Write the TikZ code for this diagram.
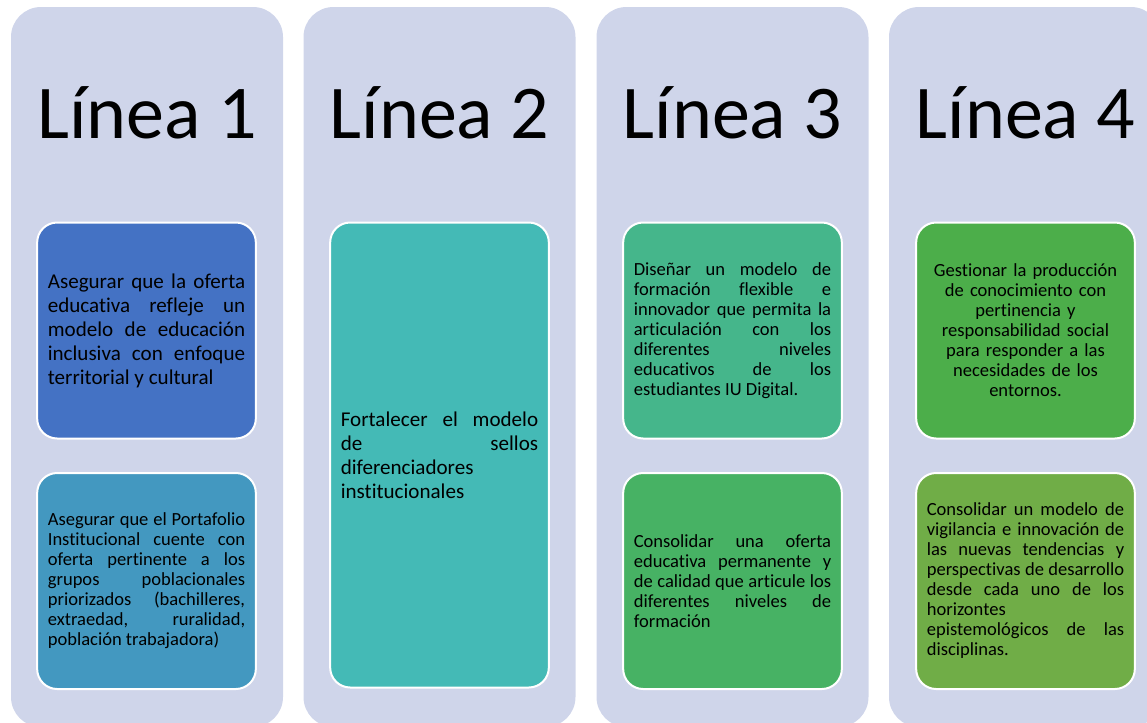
\documentclass[tikz,border=0pt]{standalone}
\usepackage{fontspec}
\setmainfont{Carlito}[Ligatures={NoCommon,NoContextual}, Contextuals={NoAlternate}]
\definecolor{lavanda}{HTML}{CFD5EA}
\definecolor{azulA}{HTML}{4472C4}
\definecolor{azulB}{HTML}{4398C0}
\definecolor{turquesa}{HTML}{44BAB6}
\definecolor{verdeA}{HTML}{45B68B}
\definecolor{verdeB}{HTML}{47B264}
\definecolor{verdeC}{HTML}{4CAE4A}
\definecolor{verdeD}{HTML}{70AD47}
\hyphenpenalty=10000
\exhyphenpenalty=10000

\tikzset{
	columna/.style={fill=lavanda, draw=none, rounded corners=22.5pt},
	titulo/.style={anchor=base, font=\fontsize{57}{68}\selectfont},
	caja/.style={draw=white, line width=1.5pt, rounded corners=15pt, inner sep=0pt,
		minimum width=164pt, minimum height=162pt, text width=148pt, align=justify,
		font=\fontsize{13.9}{15}\selectfont},
	grande/.style={font=\fontsize{15.8}{18}\selectfont},
}

\begin{document}
\begin{tikzpicture}[x=0.75pt, y=-0.75pt]
		%%%%% START %%%%%
		\useasboundingbox (0, 0) rectangle (1147, 722);
		\clip (0, 0) rectangle (1147, 722);
		
		% columnas
		\draw[columna] (11, 7) rectangle (283, 727);
		\draw[columna] (303.5, 7) rectangle (575.5, 727);
		\draw[columna] (596.5, 7) rectangle (868.5, 727);
		\draw[columna] (889, 7) rectangle (1161, 727);
		
		% titulos
		\node[titulo] (titulo1) at (147, 138) {Línea 1};
		\node[titulo] (titulo2) at (439.5, 138) {Línea 2};
		\node[titulo] (titulo3) at (732.5, 138) {Línea 3};
		\node[titulo] (titulo4) at (1025.5, 138) {Línea 4};
		
		% linea 1
		\node[caja, grande, fill=azulA] (caja11) at (146.5, 330.5)
			{Asegurar que la oferta\linebreak educativa refleje un\linebreak modelo de educación\linebreak inclusiva con enfoque\linebreak territorial y cultural};
		\node[caja, fill=azulB] (caja12) at (146.5, 581)
			{Asegurar que el Portafolio\linebreak Institucional cuente con\linebreak oferta pertinente a los\linebreak grupos poblacionales\linebreak priorizados (bachilleres,\linebreak extraedad, ruralidad,\linebreak población trabajadora)};
		
		% linea 2
		\node[caja, grande, fill=turquesa, minimum height=348.75pt] (caja2) at (439.5, 455)
			{Fortalecer el modelo\linebreak de sellos\linebreak diferenciadores\newline institucionales};
		
		% linea 3
		\node[caja, fill=verdeA] (caja31) at (732.5, 330.5)
			{Diseñar un modelo de\linebreak formación flexible e\linebreak innovador que permita la\linebreak articulación con los\linebreak diferentes niveles\linebreak educativos de los\linebreak estudiantes IU Digital.};
		\node[caja, fill=verdeB] (caja32) at (732.5, 581)
			{Consolidar una oferta\linebreak educativa permanente y\linebreak de calidad que articule los\linebreak diferentes niveles de\linebreak formación};
		
		% linea 4
		\node[caja, fill=verdeC, align=center] (caja41) at (1025.5, 330.5)
			{Gestionar la producción\\ de conocimiento con\\ pertinencia y\\ responsabilidad social\\ para responder a las\\ necesidades de los\\ entornos.};
		\node[caja, fill=verdeD] (caja42) at (1025.5, 581)
			{Consolidar un modelo de\linebreak vigilancia e innovación de\linebreak las nuevas tendencias y\linebreak perspectivas de desarrollo\linebreak desde cada uno de los\linebreak horizontes\newline epistemológicos de las\linebreak disciplinas.};
		
		%%%%% END %%%%%
\end{tikzpicture}
\end{document}
